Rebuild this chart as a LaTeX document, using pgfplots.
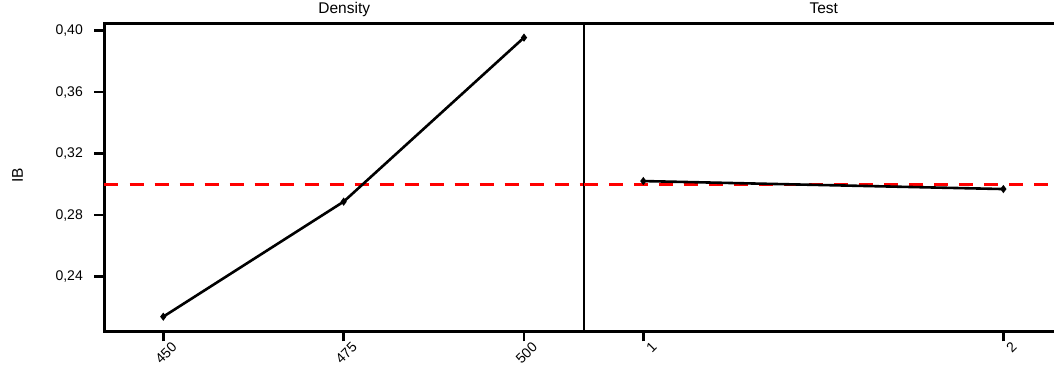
\documentclass[border=0pt]{standalone}
\usepackage{fontspec}
\setmainfont{Liberation Sans}
\usepackage{pgfplots}
\pgfplotsset{compat=1.18}
\begin{document}
\begin{tikzpicture}
\useasboundingbox (0pt,0pt) rectangle (1054pt,366pt);
\pgfplotsset{
  panel/.style={
    scale only axis,
    width=479.5pt, height=308pt,
    ymin=0.20436, ymax=0.40468,
    axis line style={line width=2.8pt, black},
    tick align=outside,
    major tick length=10pt,
    tick style={line width=2.6pt, black},
    xtick pos=left, ytick pos=left,
    clip=false,
    /pgf/number format/assume math mode=true,
    tick label style={font=\fontsize{14}{16}\selectfont},
    xticklabel style={inner sep=0pt, xshift=11pt, yshift=-3pt, rotate=45, anchor=east},
    title style={at={(0.5,1)}, anchor=base, yshift=3.5pt, inner sep=0pt, font=\fontsize{15.5}{18}\selectfont},
  },
}
\begin{axis}[panel, name=left, at={(104.5pt,34.5pt)}, anchor=south west,
  xmin=441.85, xmax=508.32,
  xtick={450,475,500},
  title={Density},
  ytick={0.24,0.28,0.32,0.36,0.40},
  yticklabel style={/pgf/number format/.cd, fixed, fixed zerofill, precision=2, use comma, /tikz/.cd, inner sep=0pt, xshift=-11.5pt},
  ylabel={IB},
  ylabel style={at={(axis description cs:-0.1816,0.508)}, anchor=center, font=\fontsize{15.5}{18}\selectfont},
]
\addplot[red, line width=3pt, dash pattern=on 14pt off 11pt] coordinates {(441.85,0.300) (508.32,0.300)};
\addplot[black, line width=2.6pt, mark=diamond*, mark size=2pt] coordinates {(450,0.2140) (475,0.2888) (500,0.3955)};
\end{axis}
\begin{axis}[panel, at={(584pt,34.5pt)}, anchor=south west,
  xmin=0.8353, xmax=2.167,
  xtick={1,2},
  title={Test},
  ytick=\empty,
]
\addplot[red, line width=3pt, dash pattern=on 14pt off 11pt] coordinates {(0.8353,0.300) (2.167,0.300)};
\addplot[black, line width=2.6pt, mark=diamond*, mark size=2pt] coordinates {(1,0.3022) (2,0.2970)};
\end{axis}
\end{tikzpicture}
\end{document}
